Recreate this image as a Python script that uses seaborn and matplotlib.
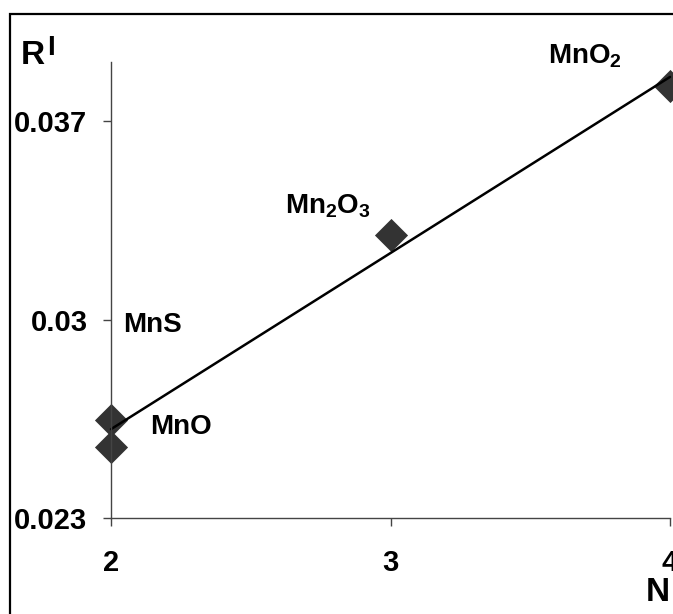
import matplotlib
matplotlib.use('Agg')
import matplotlib.pyplot as plt
import seaborn as sea
import pandas as pd

# values
compounds = ['MnS', 'MnO', 'Mn$_2$O$_3$', 'MnO$_2$']
n_values = [2, 2, 3, 4]
r_values = [0.02646, 0.02549, 0.03300, 0.03825]
y_ticks = [0.023, 0.030, 0.037]
y_tick_labels = ['0.023', '0.03', '0.037']
x_ticks = [2, 3, 4]

sea.set_theme(style='white')
plt.rcParams['font.family'] = ['Liberation Sans', 'DejaVu Sans']
plt.rcParams['font.weight'] = 'bold'
plt.rcParams['text.color'] = 'black'
plt.rcParams['xtick.labelcolor'] = 'black'
plt.rcParams['ytick.labelcolor'] = 'black'
plt.rcParams['mathtext.fontset'] = 'custom'
plt.rcParams['mathtext.rm'] = 'Liberation Sans:bold'
plt.rcParams['mathtext.bf'] = 'Liberation Sans:bold'
plt.rcParams['mathtext.default'] = 'bf'

data = pd.DataFrame({'N': n_values, 'R': r_values, 'name': compounds})

fig = plt.figure(figsize=(6.73, 6.14), dpi=100)
ax = fig.add_axes([111 / 673, 1 - 518 / 614, (670 - 111) / 673, (518 - 62) / 614])

sea.regplot(x='N', y='R', data=data, ci=None, ax=ax, marker='D',
            scatter_kws={'s': 285, 'color': '#333333', 'clip_on': False, 'linewidths': 0, 'alpha': 1},
            line_kws={'color': 'black', 'lw': 1.8, 'clip_on': False})

ax.set_xlim(2, 4)
ax.set_ylim(0.023, 0.0391)
ax.set_xticks(x_ticks)
ax.set_xticklabels([str(t) for t in x_ticks])
ax.set_yticks(y_ticks)
ax.set_yticklabels(y_tick_labels)
ax.set_xlabel('')
ax.set_ylabel('')
ax.tick_params(axis='both', direction='out', length=6, width=1, color='#444444',
               labelsize=21, labelcolor='black', bottom=True, left=True)
ax.tick_params(axis='y', pad=11)
ax.tick_params(axis='x', pad=16)
for side in ['top', 'right']:
    ax.spines[side].set_visible(False)
for side in ['left', 'bottom']:
    ax.spines[side].set_color('#444444')
    ax.spines[side].set_linewidth(1)

# point labels
label_pos = {'MnS': (2.043, 0.02982), 'MnO': (2.14, 0.02622),
             'Mn$_2$O$_3$': (2.623, 0.0340), 'MnO$_2$': (3.563, 0.0393)}
for name in compounds:
    lx, ly = label_pos[name]
    ax.text(lx, ly, name, ha='left', va='center', fontsize=20, fontweight='bold',
            color='black', clip_on=False)

# axis titles
fig.text(21 / 673, 1 - 64 / 614, 'R', fontsize=24, fontweight='bold', ha='left', va='baseline')
fig.text(47 / 673, 1 - 55 / 614, 'I', fontsize=20, fontweight='bold', ha='left', va='baseline')
fig.text(646 / 673, 1 - 601 / 614, 'N', fontsize=24, fontweight='bold', ha='left', va='baseline')

# outer frame (cut at right and bottom)
fig.add_artist(plt.Rectangle((10 / 673, -0.1), 1.2, 1 - 14 / 614 + 0.1,
                             transform=fig.transFigure, fill=False, lw=1.6, ec='black'))

fig.savefig('out.png', dpi=100)
